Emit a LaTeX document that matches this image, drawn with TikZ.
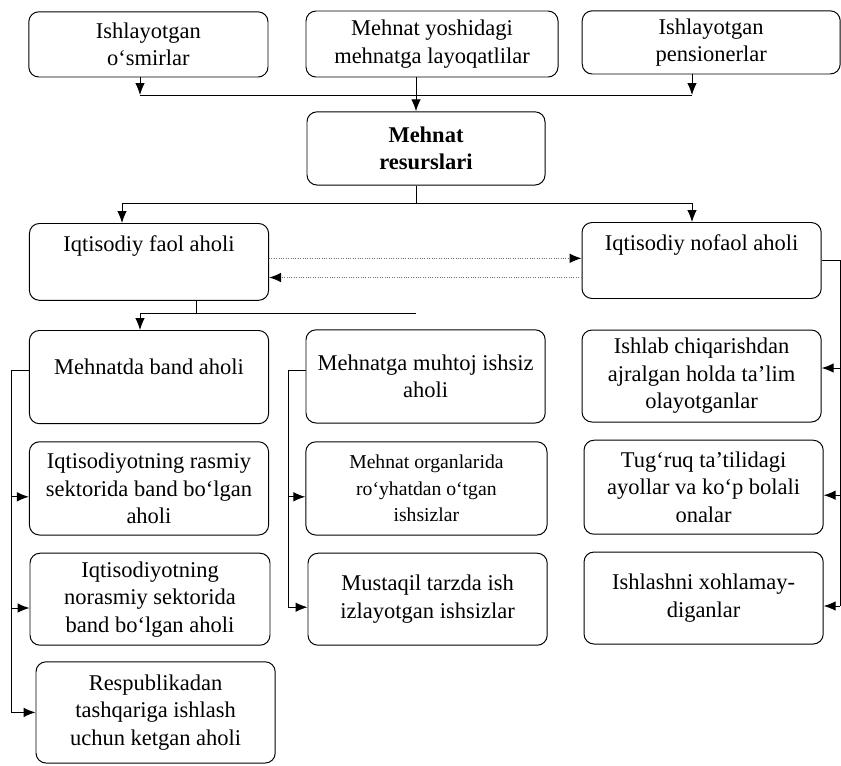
\documentclass[tikz,border=0pt]{standalone}
\usepackage{fontspec}
\setmainfont{Liberation Serif}
\usetikzlibrary{arrows.meta}
\begin{document}
\begin{tikzpicture}[>={Latex[length=3mm,width=2.4mm]}, line width=0.7pt]
    % Uslublar
    \tikzset{
        box/.style={rectangle, draw, rounded corners=2.5mm,
                    minimum width=5.98cm, minimum height=2.3cm,
                    align=center, font=\fontsize{16}{19.5}\selectfont},
        topbox/.style={box, minimum height=0pt, inner sep=0.1cm, anchor=north},
        flow/.style={-{Latex[length=3mm,width=2.4mm,black]}, densely dotted, black!55}
    }
    \useasboundingbox (0,0) rectangle (21.025,-19.125);

    % Yuqori qator
    \node[box, minimum height=1.63cm] (osmir) at (3.71,-1.11) {Ishlayotgan\\o‘smirlar};
    \node[box, minimum width=6.3cm, minimum height=1.65cm] (yosh) at (10.8,-1.1) {Mehnat yoshidagi\\mehnatga layoqatlilar};
    \node[box, minimum width=6.45cm, minimum height=1.58cm] (pens) at (17.78,-1.06) {Ishlayotgan\\pensionerlar};

    % Mehnat resurslari
    \node[box, minimum width=5.95cm, minimum height=1.83cm,
          font=\fontsize{16}{19.5}\selectfont\bfseries] (res) at (10.65,-3.71) {Mehnat\\resurslari};

    % Faol va nofaol aholi
    \node[topbox, text height=0.61cm, text depth=1.11cm] (faol) at (3.725,-5.575) {Iqtisodiy faol aholi};
    \node[topbox, text height=0.59cm, text depth=1.11cm] (nofaol) at (17.54,-5.55) {Iqtisodiy nofaol aholi};

    % Ikkinchi daraja
    \node[topbox, text height=0.99cm, text depth=1.14cm] (band) at (3.725,-8.25) {Mehnatda band aholi};
    \node[box, minimum height=2.33cm] (muhtoj) at (10.64,-9.41) {Mehnatga muhtoj ishsiz\\aholi};
    \node[box] (ishlab) at (17.54,-9.4) {Ishlab chiqarishdan\\ajralgan holda ta’lim\\olayotganlar};

    \node[box, minimum height=2.33cm] (rasmiy) at (3.725,-12.21) {Iqtisodiyotning rasmiy\\sektorida band bo‘lgan\\aholi};
    \node[box, minimum width=6.03cm, minimum height=2.33cm,
          font=\fontsize{14}{19}\selectfont] (organ) at (10.66,-12.21) {Mehnat organlarida\\ro‘yhatdan o‘tgan\\ishsizlar};
    \node[box, minimum height=2.35cm] (tugruq) at (17.59,-12.18) {Tug‘ruq ta’tilidagi\\ayollar va ko‘p bolali\\onalar};

    \node[box, minimum width=6cm] (norasmiy) at (3.75,-14.98) {Iqtisodiyotning\\norasmiy sektorida\\band bo‘lgan aholi};
    \node[box] (mustaqil) at (10.69,-14.98) {Mustaqil tarzda ish\\izlayotgan ishsizlar};
    \node[box] (ishlashni) at (17.59,-14.95) {Ishlashni xohlamay-\\diganlar};

    \node[box, minimum height=2.53cm] (respub) at (3.89,-17.81) {Respublikadan\\tashqariga ishlash\\uchun ketgan aholi};

    % Yordamchi nuqtalar
    \coordinate (tL) at (3.5,-2.375);
    \coordinate (tM) at (10.4,-2.375);
    \coordinate (tR) at (17.3,-2.375);
    \coordinate (rM) at (10.4,-5.075);
    \coordinate (rL) at (3.05,-5.075);
    \coordinate (rR) at (17.3,-5.075);
    \coordinate (fD) at (4.9,-7.825);
    \coordinate (fL) at (3.5,-7.825);
    \coordinate (fR) at (10.4,-7.825);
    \coordinate (lL) at (0.275,0);
    \coordinate (mL) at (7.2,0);
    \coordinate (rE) at (21.0,0);

    % Bog'lanishlar
    \draw[->] (tL |- osmir.south) -- (tL);
    \draw[->] (tR |- pens.south) -- (tR);
    \draw (tL) -- (tR);
    \draw[->] (tM |- yosh.south) -- (tM |- res.north);
    \draw (rM |- res.south) -- (rM);
    \draw (rL) -- (rR);
    \draw[->] (rL) -- (rL |- faol.north);
    \draw[->] (rR) -- (rR |- nofaol.north);

    \coordinate (d1) at ([yshift=0.09cm]faol.east);
    \coordinate (d2) at ([yshift=-0.39cm]faol.east);
    \draw[flow] (d1) -- (d1 -| nofaol.west);
    \draw[flow] (d2 -| nofaol.west) -- (d2);

    \draw (fD |- faol.south) -- (fD);
    \draw (fL) -- (fR);
    \draw[->] (fL) -- (fL |- band.north);

    % Chap ustun
    \coordinate (bandOut) at ([yshift=0.16cm]band.west);
    \draw (bandOut) -- (bandOut -| lL) -- (lL |- respub.west);
    \foreach \n/\s in {rasmiy/-0.21, norasmiy/-0.22, respub/0} {
        \coordinate (in) at ([yshift=\s cm]\n.west);
        \draw[->] (in -| lL) -- (in);
    }

    % O'rta ustun
    \coordinate (muhOut) at ([yshift=0.16cm]muhtoj.west);
    \coordinate (mustIn) at ([yshift=-0.2cm]mustaqil.west);
    \draw (muhOut) -- (muhOut -| mL) -- (mL |- mustIn);
    \foreach \n/\s in {organ/-0.21, mustaqil/-0.2} {
        \coordinate (in) at ([yshift=\s cm]\n.west);
        \draw[->] (in -| mL) -- (in);
    }

    % O'ng ustun
    \coordinate (ishIn) at ([yshift=-0.2cm]ishlashni.east);
    \draw (nofaol.east) -- (nofaol.east -| rE) -- (rE |- ishIn);
    \foreach \n/\s in {ishlab/0.2, tugruq/-0.2, ishlashni/-0.2} {
        \coordinate (in) at ([yshift=\s cm]\n.east);
        \draw[->] (in -| rE) -- (in);
    }
\end{tikzpicture}
\end{document}
